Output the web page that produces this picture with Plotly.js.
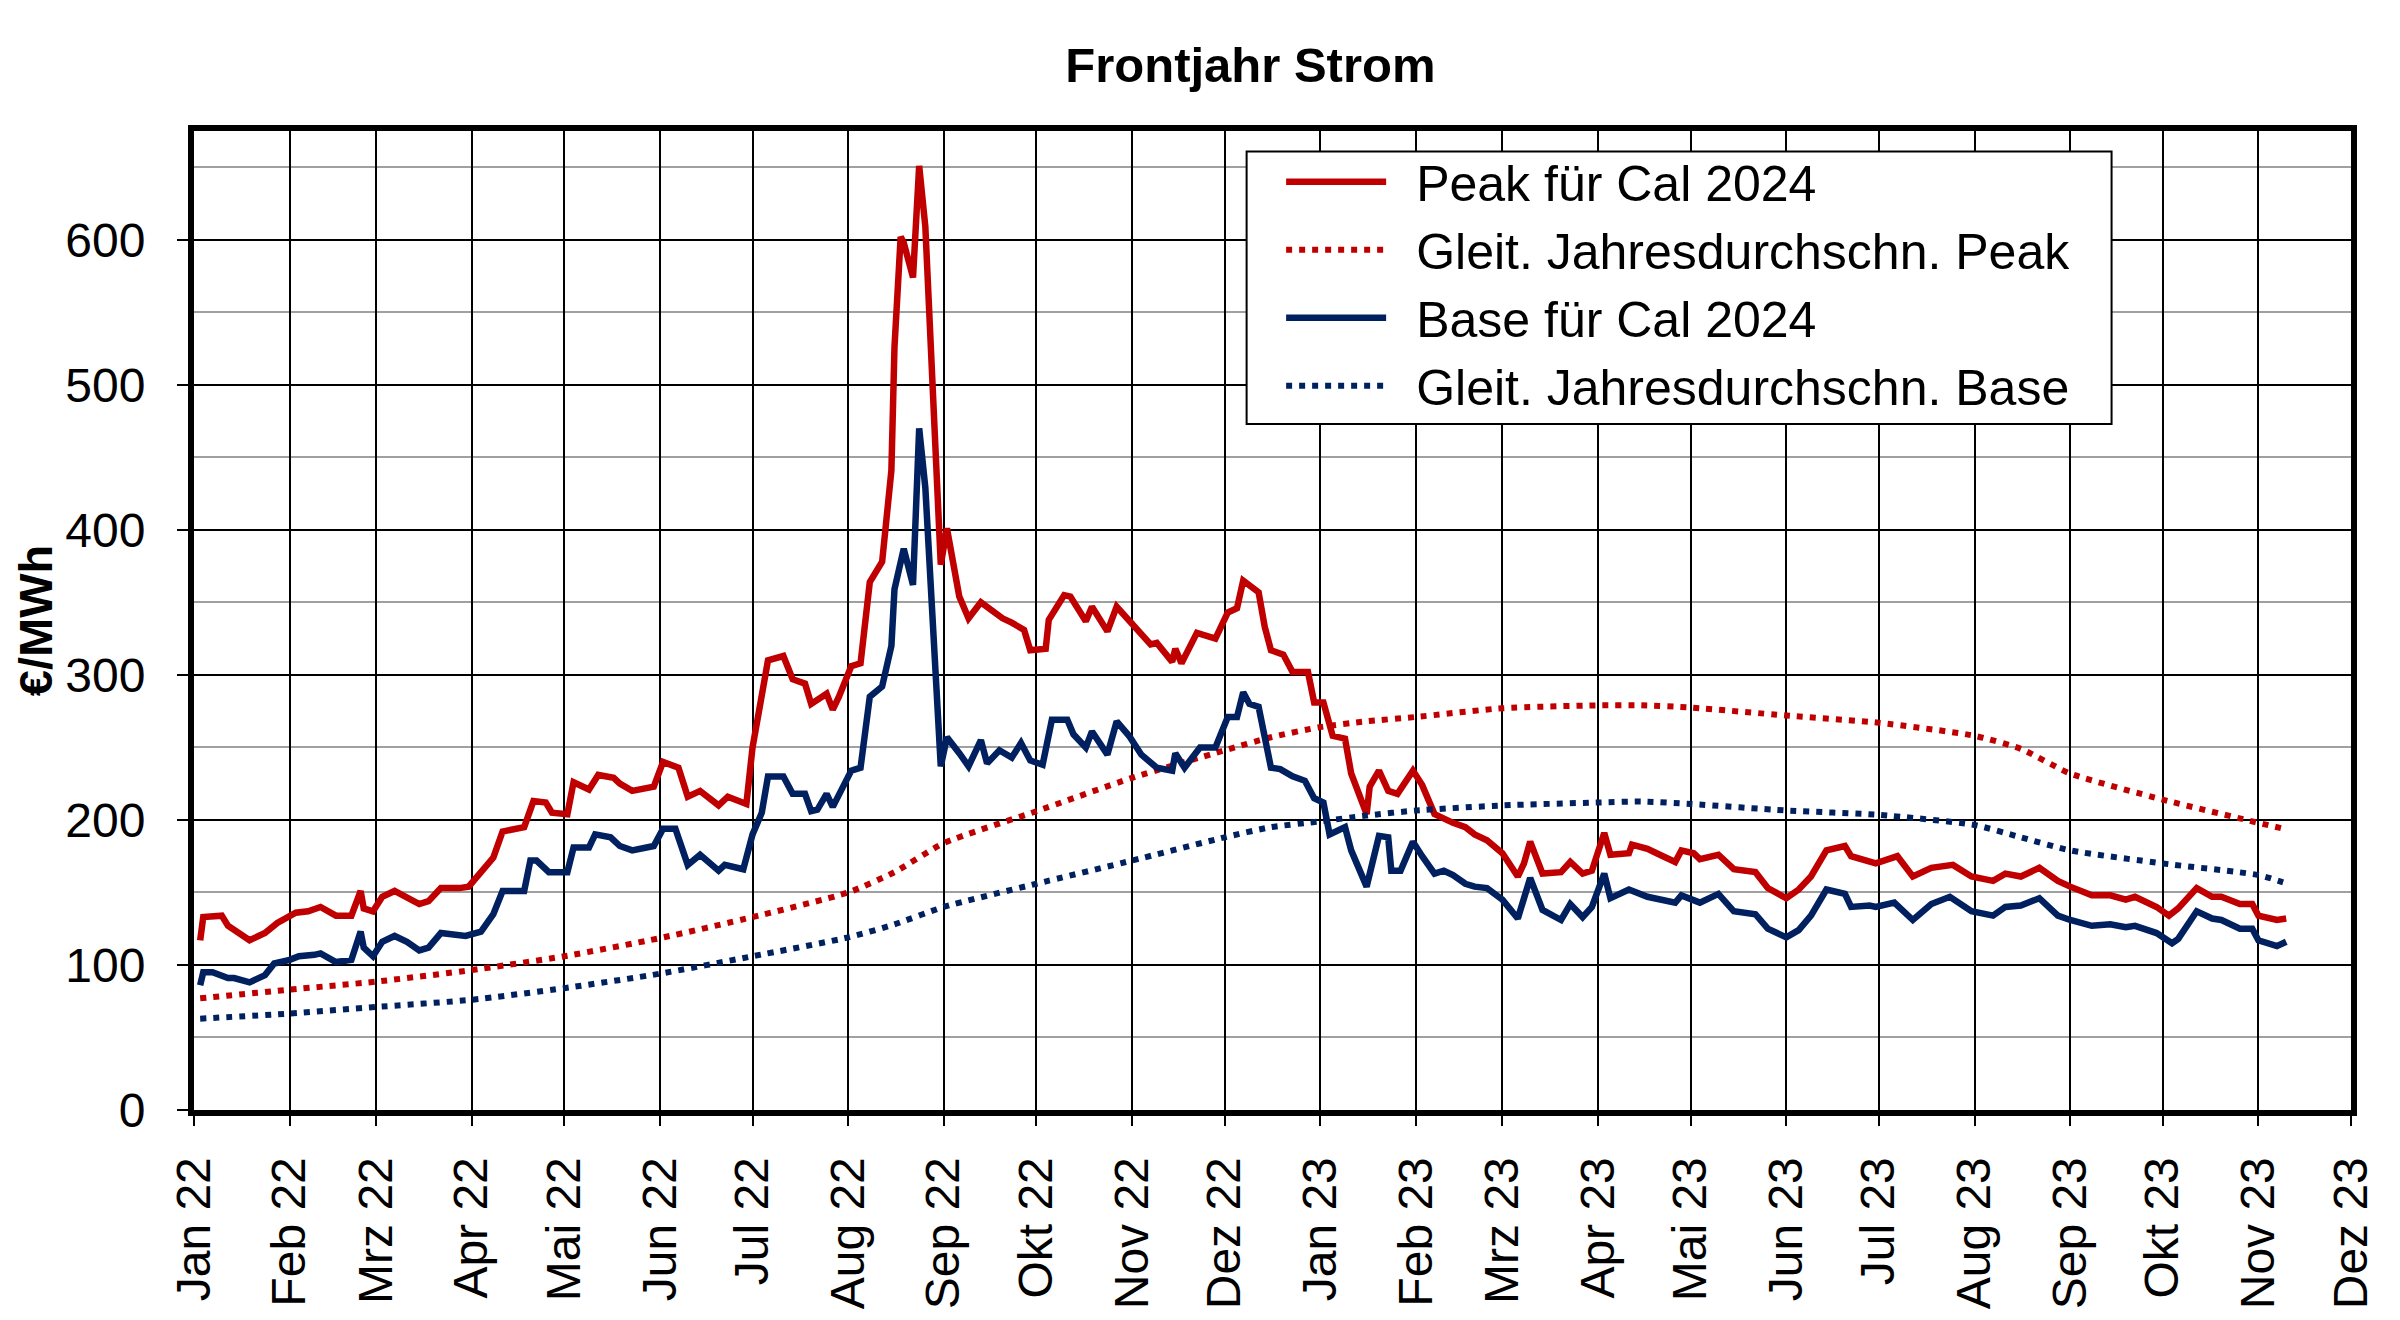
<!DOCTYPE html>
<html>
<head>
<meta charset="utf-8">
<script src="https://cdn.plot.ly/plotly-3.0.1.min.js"></script>
<style>
  html, body { margin: 0; padding: 0; background: #fff; }
  #chart { width: 2400px; height: 1320px; }
</style>
</head>
<body>
<div id="chart"></div>
<script>
// Monatsachse (deutsche Kürzel)
const monthTicks = [
  "2022-01-01", "2022-02-01", "2022-03-01", "2022-04-01", "2022-05-01", "2022-06-01",
  "2022-07-01", "2022-08-01", "2022-09-01", "2022-10-01", "2022-11-01", "2022-12-01",
  "2023-01-01", "2023-02-01", "2023-03-01", "2023-04-01", "2023-05-01", "2023-06-01",
  "2023-07-01", "2023-08-01", "2023-09-01", "2023-10-01", "2023-11-01", "2023-12-01",
];
const monthLabels = [
  "Jan 22", "Feb 22", "Mrz 22", "Apr 22", "Mai 22", "Jun 22", "Jul 22", "Aug 22",
  "Sep 22", "Okt 22", "Nov 22", "Dez 22", "Jan 23", "Feb 23", "Mrz 23", "Apr 23",
  "Mai 23", "Jun 23", "Jul 23", "Aug 23", "Sep 23", "Okt 23", "Nov 23", "Dez 23",
];

// Peak für Cal 2024 (€/MWh)
const peakDays = [
  "2022-01-03", "2022-01-04", "2022-01-10", "2022-01-12", "2022-01-19", "2022-01-24", "2022-01-28",
  "2022-02-03", "2022-02-07", "2022-02-11", "2022-02-16", "2022-02-21", "2022-02-24", "2022-02-25",
  "2022-02-28", "2022-03-03", "2022-03-07", "2022-03-11", "2022-03-15", "2022-03-18", "2022-03-22",
  "2022-03-28", "2022-03-31", "2022-04-04", "2022-04-08", "2022-04-11", "2022-04-18", "2022-04-21",
  "2022-04-25", "2022-04-27", "2022-05-02", "2022-05-04", "2022-05-09", "2022-05-12", "2022-05-17",
  "2022-05-19", "2022-05-23", "2022-05-30", "2022-06-02", "2022-06-07", "2022-06-10", "2022-06-14",
  "2022-06-20", "2022-06-23", "2022-06-29", "2022-07-01", "2022-07-04", "2022-07-06", "2022-07-11",
  "2022-07-14", "2022-07-18", "2022-07-20", "2022-07-25", "2022-07-27", "2022-07-29", "2022-08-02",
  "2022-08-05", "2022-08-08", "2022-08-12", "2022-08-15", "2022-08-16", "2022-08-18", "2022-08-19",
  "2022-08-22", "2022-08-24", "2022-08-26", "2022-08-31", "2022-09-02", "2022-09-06", "2022-09-09",
  "2022-09-13", "2022-09-20", "2022-09-23", "2022-09-27", "2022-09-29", "2022-10-04", "2022-10-05",
  "2022-10-10", "2022-10-12", "2022-10-17", "2022-10-19", "2022-10-24", "2022-10-27", "2022-10-31",
  "2022-11-07", "2022-11-09", "2022-11-14", "2022-11-15", "2022-11-17", "2022-11-22", "2022-11-28",
  "2022-12-02", "2022-12-05", "2022-12-07", "2022-12-12", "2022-12-14", "2022-12-16", "2022-12-20",
  "2022-12-23", "2022-12-28", "2022-12-30", "2023-01-02", "2023-01-05", "2023-01-09", "2023-01-11",
  "2023-01-16", "2023-01-17", "2023-01-20", "2023-01-23", "2023-01-26", "2023-01-31", "2023-02-03",
  "2023-02-07", "2023-02-13", "2023-02-17", "2023-02-20", "2023-02-24", "2023-03-01", "2023-03-06",
  "2023-03-08", "2023-03-10", "2023-03-14", "2023-03-20", "2023-03-23", "2023-03-27", "2023-03-30",
  "2023-04-03", "2023-04-05", "2023-04-11", "2023-04-12", "2023-04-17", "2023-04-21", "2023-04-26",
  "2023-04-28", "2023-05-02", "2023-05-04", "2023-05-10", "2023-05-15", "2023-05-22", "2023-05-26",
  "2023-06-01", "2023-06-05", "2023-06-09", "2023-06-14", "2023-06-20", "2023-06-22", "2023-06-26",
  "2023-06-30", "2023-07-07", "2023-07-12", "2023-07-18", "2023-07-25", "2023-07-31", "2023-08-07",
  "2023-08-11", "2023-08-16", "2023-08-22", "2023-08-28", "2023-09-01", "2023-09-08", "2023-09-14",
  "2023-09-19", "2023-09-22", "2023-09-29", "2023-10-03", "2023-10-06", "2023-10-12", "2023-10-17",
  "2023-10-20", "2023-10-26", "2023-10-30", "2023-11-01", "2023-11-07", "2023-11-10",
];
const peakPrices = [
  117, 133, 134, 127, 117, 122, 129,
  136, 137, 140, 134, 134, 151, 139,
  137, 147, 151, 147, 142, 144, 153,
  153, 154, 164, 174, 192, 195, 213,
  212, 205, 204, 226, 221, 231, 229,
  225, 220, 223, 240, 236, 216, 220,
  210, 216, 211, 250, 290, 310, 313,
  297, 294, 280, 287, 276, 285, 306,
  308, 364, 378, 441, 526, 602, 598,
  574, 651, 609, 376, 401, 354, 339,
  350, 339, 336, 331, 317, 318, 338,
  355, 354, 337, 347, 330, 347, 338,
  321, 322, 309, 318, 308, 329, 325,
  343, 346, 365, 357, 333, 317, 314,
  302, 302, 281, 281, 258, 256, 232,
  204, 223, 234, 220, 218, 234, 224,
  204, 198, 195, 190, 186, 177, 161,
  170, 185, 163, 164, 171, 163, 165,
  191, 176, 177, 183, 180, 176, 171,
  179, 177, 173, 176, 166, 164, 153,
  146, 152, 161, 179, 182, 175, 172,
  170, 175, 161, 167, 169, 161, 158,
  163, 161, 167, 158, 154, 148, 148,
  145, 147, 140, 134, 139, 153, 147,
  147, 142, 142, 134, 131, 132,
];

// Base für Cal 2024 (€/MWh)
const baseDays = [
  "2022-01-03", "2022-01-04", "2022-01-07", "2022-01-12", "2022-01-14", "2022-01-19", "2022-01-24",
  "2022-01-27", "2022-02-01", "2022-02-04", "2022-02-09", "2022-02-11", "2022-02-16", "2022-02-21",
  "2022-02-24", "2022-02-25", "2022-02-28", "2022-03-03", "2022-03-07", "2022-03-11", "2022-03-15",
  "2022-03-18", "2022-03-22", "2022-03-28", "2022-03-30", "2022-04-04", "2022-04-08", "2022-04-11",
  "2022-04-18", "2022-04-20", "2022-04-22", "2022-04-26", "2022-05-02", "2022-05-04", "2022-05-09",
  "2022-05-11", "2022-05-16", "2022-05-19", "2022-05-23", "2022-05-30", "2022-06-02", "2022-06-06",
  "2022-06-10", "2022-06-14", "2022-06-20", "2022-06-22", "2022-06-28", "2022-07-01", "2022-07-04",
  "2022-07-06", "2022-07-11", "2022-07-14", "2022-07-18", "2022-07-20", "2022-07-22", "2022-07-25",
  "2022-07-27", "2022-08-02", "2022-08-05", "2022-08-08", "2022-08-12", "2022-08-15", "2022-08-16",
  "2022-08-19", "2022-08-22", "2022-08-24", "2022-08-26", "2022-08-31", "2022-09-02", "2022-09-06",
  "2022-09-09", "2022-09-13", "2022-09-15", "2022-09-19", "2022-09-23", "2022-09-26", "2022-09-29",
  "2022-10-03", "2022-10-06", "2022-10-11", "2022-10-13", "2022-10-17", "2022-10-19", "2022-10-24",
  "2022-10-27", "2022-10-31", "2022-11-04", "2022-11-09", "2022-11-14", "2022-11-15", "2022-11-18",
  "2022-11-23", "2022-11-28", "2022-12-02", "2022-12-05", "2022-12-07", "2022-12-09", "2022-12-12",
  "2022-12-14", "2022-12-16", "2022-12-19", "2022-12-23", "2022-12-27", "2022-12-30", "2023-01-02",
  "2023-01-04", "2023-01-09", "2023-01-11", "2023-01-16", "2023-01-20", "2023-01-23", "2023-01-24",
  "2023-01-27", "2023-01-31", "2023-02-03", "2023-02-07", "2023-02-10", "2023-02-13", "2023-02-17",
  "2023-02-20", "2023-02-24", "2023-03-01", "2023-03-06", "2023-03-10", "2023-03-14", "2023-03-20",
  "2023-03-23", "2023-03-27", "2023-03-30", "2023-04-03", "2023-04-05", "2023-04-11", "2023-04-17",
  "2023-04-21", "2023-04-26", "2023-04-28", "2023-05-04", "2023-05-10", "2023-05-15", "2023-05-22",
  "2023-05-26", "2023-06-01", "2023-06-05", "2023-06-09", "2023-06-14", "2023-06-20", "2023-06-22",
  "2023-06-28", "2023-06-30", "2023-07-06", "2023-07-12", "2023-07-18", "2023-07-24", "2023-07-31",
  "2023-08-07", "2023-08-11", "2023-08-16", "2023-08-22", "2023-08-28", "2023-09-01", "2023-09-08",
  "2023-09-14", "2023-09-19", "2023-09-22", "2023-09-29", "2023-10-04", "2023-10-06", "2023-10-12",
  "2023-10-17", "2023-10-20", "2023-10-26", "2023-10-30", "2023-11-01", "2023-11-07", "2023-11-10",
];
const basePrices = [
  86, 95, 95, 91, 91, 88, 93,
  101, 103.5, 106, 107, 108, 102, 103.5,
  123, 112, 106, 116, 120, 116, 110,
  112, 122, 121, 120, 123, 135, 151,
  151, 172, 172, 164, 164, 181, 181,
  190, 188, 182, 179, 182, 194, 194,
  169, 176, 165, 169, 166, 190, 205,
  230, 230, 218, 218, 206, 207, 218,
  209, 234, 236, 285, 292, 320, 359,
  387, 362, 470, 429, 237, 257, 246,
  237, 255, 239, 248, 243, 253, 241,
  238, 269, 269, 259, 250, 261, 245,
  268, 258, 245, 236, 234, 246, 236,
  250, 250, 271, 271, 288, 280, 278,
  259, 236, 235, 230, 227, 215, 212,
  190, 195, 179, 154, 189, 188, 165,
  165, 185, 175, 163, 165, 162, 156,
  154, 153, 145, 132, 160, 138, 131,
  142, 133, 140, 163, 146, 152, 147,
  145, 143, 148, 143, 149, 137, 135,
  125, 119, 124, 134, 152, 149, 140,
  141, 140, 143, 131, 142, 147, 137,
  134, 140, 141, 146, 134, 131, 127,
  128, 126, 127, 122, 115, 118, 137,
  132, 131, 125, 125, 117, 113, 116,
];

// Gleitender Jahresdurchschnitt
const avgDays = [
  "2022-01-03", "2022-02-01", "2022-03-01", "2022-04-01", "2022-05-01", "2022-06-01",
  "2022-07-01", "2022-08-01", "2022-08-16", "2022-09-01", "2022-10-01", "2022-11-01",
  "2022-12-01", "2022-12-16", "2023-01-01", "2023-01-16", "2023-02-01", "2023-03-01",
  "2023-04-01", "2023-04-15", "2023-05-01", "2023-06-01", "2023-07-01", "2023-08-01",
  "2023-08-16", "2023-09-01", "2023-10-01", "2023-11-01", "2023-11-09",
];
const avgPeak = [
  77, 83, 88.5, 96.5, 106, 118.5,
  133, 150, 164, 184, 206, 229,
  248, 257, 264, 268, 271, 277,
  279, 279, 277.5, 272, 267, 258,
  249, 232, 214, 198, 194,
];
const avgBase = [
  63, 66.5, 71, 76, 84, 94,
  106, 119, 128, 140, 156, 172,
  188, 195, 199, 203, 206.5, 210,
  212, 212.7, 211, 206.5, 203.5, 196.5,
  188, 179, 170, 162, 157,
];

const RED = "#c00000";
const NAVY = "#002060";
const FONT = 'Arial, "Liberation Sans", sans-serif';
const GAP = "\u2002";

const traces = [
  {
    x: peakDays, y: peakPrices, name: GAP + "Peak für Cal 2024", legendgroup: "a",
    type: "scatter", mode: "lines", line: { color: RED, width: 6.5 },
  },
  {
    x: avgDays, y: avgPeak, name: GAP + "Gleit. Jahresdurchschn. Peak", legendgroup: "b",
    type: "scatter", mode: "lines",
    line: { color: RED, width: 6, dash: "6px,7px", shape: "spline", smoothing: 0.6 },
  },
  {
    x: baseDays, y: basePrices, name: GAP + "Base für Cal 2024", legendgroup: "c",
    type: "scatter", mode: "lines", line: { color: NAVY, width: 6.5 },
  },
  {
    x: avgDays, y: avgBase, name: GAP + "Gleit. Jahresdurchschn. Base", legendgroup: "d",
    type: "scatter", mode: "lines",
    line: { color: NAVY, width: 6, dash: "6px,7px", shape: "spline", smoothing: 0.6 },
  },
];

const layout = {
  width: 2400,
  height: 1320,
  paper_bgcolor: "#ffffff",
  plot_bgcolor: "#ffffff",
  margin: { l: 194, r: 49, t: 131, b: 210 },
  font: { family: FONT, size: 48, color: "#000" },
  title: {
    text: "<b>Frontjahr Strom</b>",
    font: { family: FONT, size: 49, color: "#000" },
    xref: "container", x: 0.521, xanchor: "center",
    yref: "container", y: 0.951, yanchor: "middle",
  },
  xaxis: {
    type: "date",
    range: ["2022-01-01", "2023-12-01"],
    tickvals: monthTicks,
    ticktext: monthLabels,
    tickangle: -90,
    tickfont: { family: FONT, size: 48 },
    ticks: "outside", ticklen: 10, tickwidth: 2, tickcolor: "#000",
    showgrid: true, gridcolor: "#000", gridwidth: 2,
    showline: true, linecolor: "#000", linewidth: 6, mirror: true,
    zeroline: false,
    ticklabelstandoff: 12,
  },
  yaxis: {
    range: [0, 675],
    tickvals: [0, 100, 200, 300, 400, 500, 600],
    tickfont: { family: FONT, size: 48 },
    ticks: "outside", ticklen: 11, tickwidth: 2, tickcolor: "#000",
    showgrid: true, gridcolor: "#000", gridwidth: 2,
    minor: { dtick: 50, tick0: 0, showgrid: true, gridcolor: "#a0a0a0", gridwidth: 2, ticks: "" },
    showline: true, linecolor: "#000", linewidth: 6, mirror: true,
    zeroline: false,
    ticklabelstandoff: 22,
    title: {
      text: "<b>€/MWh</b>",
      font: { family: FONT, size: 47, color: "#000" },
      standoff: 0,
    },
  },
  // Legendenrahmen als Fläche, damit die Gitterlinien darunter verdeckt werden
  shapes: [
    {
      type: "rect", xref: "paper", yref: "paper", layer: "above",
      x0: 0.488, x1: 0.889, y0: 0.7007, y1: 0.979,
      fillcolor: "#ffffff", line: { color: "#000", width: 2 },
    },
  ],
  showlegend: true,
  legend: {
    x: 0.504, y: 0.988, xanchor: "left", yanchor: "top",
    bgcolor: "rgba(0,0,0,0)", borderwidth: 0,
    font: { family: FONT, size: 50, color: "#000" },
    traceorder: "normal",
    tracegroupgap: 4,
    itemwidth: 100,
  },
};

Plotly.newPlot("chart", traces, layout, { staticPlot: true, displayModeBar: false });
</script>
</body>
</html>
